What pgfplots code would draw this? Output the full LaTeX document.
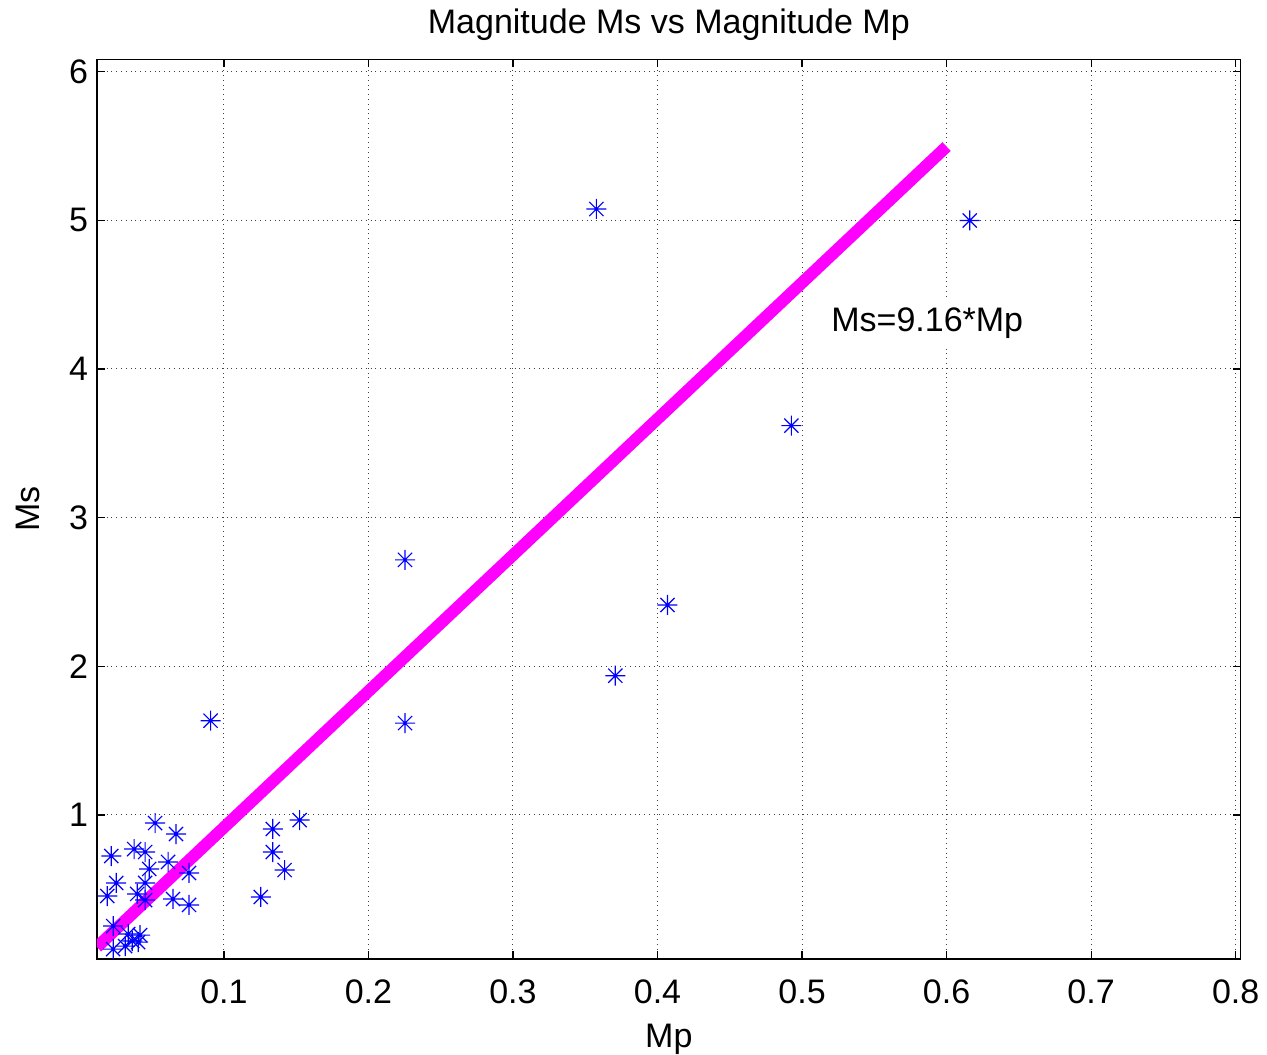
\documentclass[border=0pt]{standalone}
\usepackage{fontspec}
\setmainfont{Liberation Sans}
\usepackage{pgfplots}
\pgfplotsset{compat=1.18}
\usetikzlibrary{calc}
\definecolor{mblue}{RGB}{0,0,255}
\definecolor{mmag}{RGB}{255,0,255}
\pgfdeclareplotmark{ast8}{%
  \pgfpathmoveto{\pgfqpoint{-\pgfplotmarksize}{0pt}}%
  \pgfpathlineto{\pgfqpoint{\pgfplotmarksize}{0pt}}%
  \pgfpathmoveto{\pgfqpoint{0pt}{-\pgfplotmarksize}}%
  \pgfpathlineto{\pgfqpoint{0pt}{\pgfplotmarksize}}%
  \pgfpathmoveto{\pgfqpoint{-0.707\pgfplotmarksize}{-0.707\pgfplotmarksize}}%
  \pgfpathlineto{\pgfqpoint{0.707\pgfplotmarksize}{0.707\pgfplotmarksize}}%
  \pgfpathmoveto{\pgfqpoint{-0.707\pgfplotmarksize}{0.707\pgfplotmarksize}}%
  \pgfpathlineto{\pgfqpoint{0.707\pgfplotmarksize}{-0.707\pgfplotmarksize}}%
  \pgfusepathqstroke}
\begin{document}
\begin{tikzpicture}
\begin{axis}[
  scale only axis,
  width=571.85pt, height=449.85pt,
  xmin=0.0122, xmax=0.8035,
  ymin=0.0314, ymax=6.083,
  xtick={0.1,0.2,0.3,0.4,0.5,0.6,0.7,0.8},
  ytick={1,2,3,4,5,6},
  xticklabels={0.1,0.2,0.3,0.4,0.5,0.6,0.7,0.8},
  yticklabels={1,2,3,4,5,6},
  tick align=inside,
  major tick length=4pt,
  tick style={black, line width=0.6pt},
  axis line style={black, line width=0.6pt},
  grid=major,
  major grid style={dotted, black!75, line width=0.5pt},
  /pgf/number format/assume math mode=true,
  tick label style={font=\fontsize{17}{20}\selectfont},
  xticklabel style={anchor=base, yshift=-22pt},
  yticklabel style={anchor=east, xshift=-1pt},
  title={Magnitude Ms vs Magnitude Mp},
  title style={font=\fontsize{17}{20}\selectfont, at={(0.5,1)}, anchor=base, yshift=7pt},
  xlabel={Mp},
  xlabel style={font=\fontsize{17}{20}\selectfont, at={(0.5,0)}, anchor=base, yshift=-44pt},
  ylabel={Ms},
  ylabel style={font=\fontsize{17}{20}\selectfont, at={(0,0.5)}, anchor=center, yshift=34.5pt},
  clip=true,
]
\coordinate (sw) at (rel axis cs:0,0);
\coordinate (ne) at (rel axis cs:1,1);
\addplot[only marks, mark=ast8, mark size=5pt, mblue, mark options={line width=0.6pt}] coordinates {
(0.0524,0.946) (0.0669,0.872) (0.0221,0.724) (0.0379,0.771) (0.0455,0.751)
(0.0614,0.684) (0.0483,0.637) (0.0759,0.610) (0.0455,0.543) (0.0255,0.543)
(0.0193,0.455) (0.0400,0.469) (0.0648,0.435) (0.0759,0.395) (0.0455,0.428)
(0.0234,0.253) (0.0338,0.199) (0.0420,0.192) (0.0366,0.152) (0.0234,0.098)
(0.0317,0.118) (0.0407,0.145)
(0.1524,0.966) (0.1338,0.906) (0.1338,0.751) (0.1420,0.630) (0.1255,0.449)
(0.0908,1.634) (0.2253,2.716) (0.2253,1.618) (0.3708,1.937) (0.4069,2.413)
(0.3577,5.076) (0.6160,4.999) (0.4926,3.619)
};
\addplot[mmag, line width=6pt, line cap=butt] coordinates {(0.0122,0.1118) (0.6,5.496)};
\node[anchor=base west, fill=white, inner sep=5pt, xshift=-5pt, font=\fontsize{17}{20}\selectfont] at (axis cs:0.52,4.249) {Ms=9.16*Mp};
\end{axis}
\pgfresetboundingbox
\path[use as bounding box] ($(sw)+(-48.5pt,-47.5pt)$) rectangle ($(ne)+(13.15pt,29.65pt)$);
\end{tikzpicture}
\end{document}
